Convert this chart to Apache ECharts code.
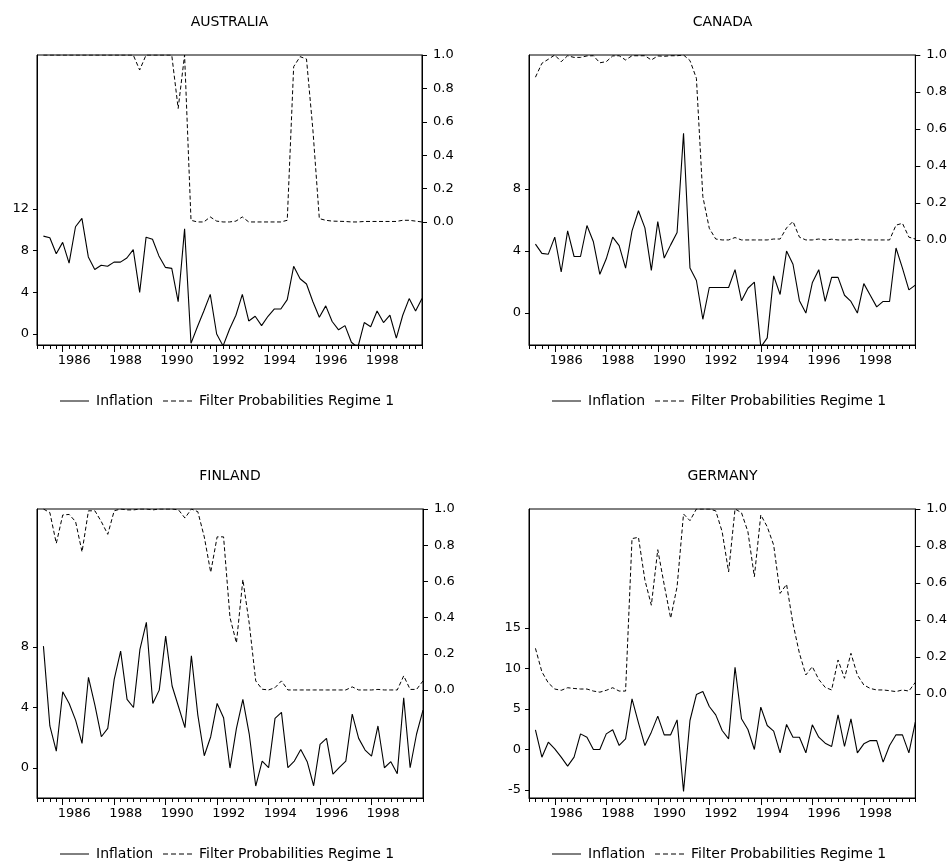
<!DOCTYPE html>
<html>
<head>
<meta charset="utf-8">
<script src="https://cdn.jsdelivr.net/npm/echarts@6/dist/echarts.min.js"></script>
<style>
  html, body { margin: 0; padding: 0; background: #fff; }
  #chart { width: 950px; height: 865px; }
</style>
</head>
<body>
<div id="chart"></div>
<script>
// ---- Data (quarterly observations) ----
const ausInfl = [9.4, 9.25, 7.7, 8.8, 6.8, 10.3, 11.1, 7.4, 6.2, 6.6, 6.5, 6.9, 6.9, 7.3, 8.1, 4.0, 9.3, 9.1, 7.5, 6.4,
  6.3, 3.1, 10.1, -0.9, 0.7, 2.2, 3.8, 0.0, -1.15, 0.45, 1.8, 3.8, 1.25, 1.7, 0.8, 1.7, 2.4, 2.4, 3.3, 6.5,
  5.3, 4.8, 3.1, 1.6, 2.7, 1.2, 0.4, 0.8, -0.8, -1.3, 1.1, 0.7, 2.2, 1.1, 1.8, -0.4, 1.8, 3.4, 2.2, 3.4];
const ausProb = [1, 1, 1, 1, 1, 1, 1, 1, 1, 1, 1, 1, 1, 1, 1, 0.91, 1, 1, 1, 1,
  1, 0.68, 1, 0.01, 0.0, 0.0, 0.03, 0.005, 0.0, 0.0, 0.005, 0.03, 0.0, 0.0, 0.0, 0.0, 0.0, 0.0, 0.01, 0.93,
  0.99, 0.976, 0.55, 0.02, 0.01, 0.005, 0.004, 0.003, 0.0, 0.0, 0.003, 0.003, 0.003, 0.003, 0.003, 0.003, 0.01, 0.01, 0.005, 0.0];

const canInfl = [4.45, 3.85, 3.8, 4.9, 2.65, 5.3, 3.65, 3.65, 5.65, 4.6, 2.5, 3.5, 4.9, 4.35, 2.9, 5.3, 6.6, 5.5, 2.75, 5.9,
  3.55, 4.4, 5.2, 11.6, 2.9, 2.1, -0.4, 1.65, 1.65, 1.65, 1.65, 2.8, 0.8, 1.6, 2.0, -2.2, -1.6, 2.4, 1.2, 4.0,
  3.15, 0.8, 0.0, 1.95, 2.8, 0.75, 2.3, 2.3, 1.15, 0.75, 0.0, 1.9, 1.15, 0.4, 0.75, 0.75, 4.2, 2.9, 1.5, 1.8];
const canProb = [0.88, 0.955, 0.977, 1.0, 0.964, 0.996, 0.987, 0.987, 0.995, 0.996, 0.958, 0.964, 0.995, 0.996, 0.973, 0.996, 0.996, 0.996, 0.973, 0.995,
  0.993, 0.996, 0.996, 1.0, 0.97, 0.874, 0.234, 0.063, 0.005, 0.0, 0.0, 0.013, 0.0, 0.0, 0.0, 0.0, 0.0, 0.005, 0.005, 0.065,
  0.1, 0.015, 0.0, 0.0, 0.005, 0.0, 0.004, 0.0, 0.0, 0.0, 0.004, 0.0, 0.0, 0.0, 0.0, 0.0, 0.08, 0.09, 0.015, 0.005];

const finInfl = [8.06, 2.78, 1.12, 5.04, 4.27, 3.17, 1.63, 6.0, 4.16, 2.07, 2.62, 5.86, 7.73, 4.54, 4.0, 7.84, 9.63, 4.27, 5.15, 8.72,
  5.42, 4.05, 2.67, 7.42, 3.5, 0.81, 2.07, 4.27, 3.33, 0.0, 2.62, 4.54, 2.22, -1.19, 0.46, 0.02, 3.28, 3.68, 0.02, 0.46,
  1.23, 0.42, -1.17, 1.56, 1.96, -0.4, 0.04, 0.46, 3.57, 1.96, 1.19, 0.79, 2.78, 0.02, 0.42, -0.37, 4.65, 0.02, 2.25, 3.83];
const finProb = [1.0, 0.98, 0.81, 0.967, 0.97, 0.93, 0.763, 0.99, 0.99, 0.93, 0.86, 0.99, 1.0, 0.995, 0.995, 1.0, 1.0, 0.995, 1.0, 1.0,
  1.0, 0.995, 0.95, 1.0, 0.985, 0.846, 0.65, 0.846, 0.846, 0.40, 0.26, 0.61, 0.365, 0.05, 0.004, 0.0, 0.013, 0.05, 0.0, 0.0,
  0.0, 0.0, 0.0, 0.0, 0.0, 0.0, 0.0, 0.0, 0.017, 0.0, 0.0, 0.0, 0.003, 0.0, 0.0, 0.0, 0.078, 0.003, 0.003, 0.05];

const gerInfl = [2.43, -0.95, 0.9, 0.08, -0.95, -2.06, -0.95, 1.93, 1.52, 0.0, 0.0, 1.93, 2.43, 0.5, 1.32, 6.26, 3.29, 0.49, 2.14, 4.12,
  1.81, 1.81, 3.66, -5.19, 3.58, 6.79, 7.16, 5.31, 4.28, 2.35, 1.32, 10.16, 3.79, 2.47, 0.0, 5.23, 2.96, 2.26, -0.41, 3.09,
  1.52, 1.52, -0.41, 3.05, 1.52, 0.78, 0.37, 4.28, 0.37, 3.79, -0.41, 0.7, 1.1, 1.1, -1.56, 0.49, 1.81, 1.81, -0.41, 3.37];
const gerProb = [0.247, 0.12, 0.06, 0.027, 0.02, 0.034, 0.03, 0.027, 0.027, 0.016, 0.01, 0.02, 0.034, 0.016, 0.016, 0.84, 0.847, 0.616, 0.48, 0.78,
  0.59, 0.41, 0.58, 0.973, 0.937, 1.0, 1.0, 1.0, 0.99, 0.877, 0.66, 1.0, 0.98, 0.877, 0.634, 0.968, 0.904, 0.805, 0.544, 0.593,
  0.38, 0.22, 0.103, 0.148, 0.079, 0.036, 0.022, 0.184, 0.085, 0.22, 0.103, 0.049, 0.03, 0.022, 0.022, 0.018, 0.013, 0.022, 0.016, 0.063];

// observation dates (decimal years), first observation 1985Q2
const startYear = 1985;
const obsCount = 60;
const obsDates = [];
for (let i = 0; i < obsCount; i++) obsDates.push(startYear + (i + 1) / 4);

// tick labels
const yearLabels = [1986, 1988, 1990, 1992, 1994, 1996, 1998];
const ausTicks = [0, 4, 8, 12];
const canTicks = [0, 4, 8];
const finTicks = [0, 4, 8];
const gerTicks = [-5, 0, 5, 10, 15];
const probTicks = [0, 0.2, 0.4, 0.6, 0.8, 1.0];
const seriesNames = ['Inflation', 'Filter Probabilities Regime 1'];

// ---- Layout ----
const FONT = 'DejaVu Sans';
const panels = [
  { title: 'AUSTRALIA', infl: ausInfl, prob: ausProb, ticks: ausTicks,
    grid: { left: 37, top: 55, width: 385, height: 290 }, lmin: -1.06, lmax: 26.8, rmin: -0.737, rmax: 1.0 },
  { title: 'CANADA', infl: canInfl, prob: canProb, ticks: canTicks,
    grid: { left: 529, top: 55, width: 387, height: 290 }, lmin: -2.06, lmax: 16.65, rmin: -0.568, rmax: 1.0 },
  { title: 'FINLAND', infl: finInfl, prob: finProb, ticks: finTicks,
    grid: { left: 37, top: 509, width: 386, height: 289 }, lmin: -1.98, lmax: 17.12, rmin: -0.597, rmax: 1.0 },
  { title: 'GERMANY', infl: gerInfl, prob: gerProb, ticks: gerTicks,
    grid: { left: 529, top: 509, width: 387, height: 289 }, lmin: -5.99, lmax: 29.7, rmin: -0.562, rmax: 1.0 }
];

const quarterTicks = [];
for (let q = 0; q <= 60; q++) quarterTicks.push(startYear + q / 4);

const labelStyle = { color: '#000', fontSize: 13, fontFamily: FONT };
const grids = [], xAxes = [], yAxes = [], series = [], graphics = [];

panels.forEach((p, i) => {
  grids.push({ left: p.grid.left, top: p.grid.top, width: p.grid.width, height: p.grid.height,
    show: true, borderColor: '#000', borderWidth: 1, backgroundColor: 'transparent', containLabel: false });

  xAxes.push({
    gridIndex: i, type: 'value', min: 1985, max: 2000, position: 'bottom',
    axisLine: { show: true, onZero: false, lineStyle: { color: '#000', width: 1 } },
    axisTick: { show: true, customValues: quarterTicks, length: 4, lineStyle: { color: '#000' } },
    axisLabel: Object.assign({ customValues: yearLabels.map(y => y + 0.45), formatter: v => String(Math.floor(v + 0.01)), margin: 9 }, labelStyle),
    splitLine: { show: false }
  });
  xAxes.push({
    gridIndex: i, type: 'value', min: 1985, max: 2000, position: 'bottom',
    axisLine: { show: false, onZero: false },
    axisTick: { show: true, customValues: yearLabels, length: 7, lineStyle: { color: '#000' } },
    axisLabel: { show: false },
    splitLine: { show: false }
  });

  yAxes.push({
    gridIndex: i, type: 'value', position: 'left', min: p.lmin, max: p.lmax,
    axisLine: { show: true, onZero: false, lineStyle: { color: '#000' } },
    axisTick: { show: true, customValues: p.ticks, length: 4, lineStyle: { color: '#000' } },
    axisLabel: Object.assign({ customValues: p.ticks, margin: 8 }, labelStyle),
    splitLine: { show: false }
  });
  yAxes.push({
    gridIndex: i, type: 'value', position: 'right', min: p.rmin, max: p.rmax,
    axisLine: { show: true, onZero: false, lineStyle: { color: '#000' } },
    axisTick: { show: true, customValues: probTicks, length: 5, lineStyle: { color: '#000' } },
    axisLabel: Object.assign({ customValues: probTicks, margin: 11, formatter: v => v.toFixed(1) }, labelStyle),
    splitLine: { show: false }
  });

  series.push({
    name: seriesNames[0], type: 'line', xAxisIndex: 2 * i, yAxisIndex: 2 * i,
    data: obsDates.map((d, k) => [d, p.infl[k]]),
    showSymbol: false, symbol: 'none', silent: true, animation: false,
    lineStyle: { color: '#000', width: 1.1 }
  });
  series.push({
    name: seriesNames[1], type: 'line', xAxisIndex: 2 * i, yAxisIndex: 2 * i + 1,
    data: obsDates.map((d, k) => [d, p.prob[k]]),
    showSymbol: false, symbol: 'none', silent: true, animation: false,
    lineStyle: { color: '#000', width: 1, type: [4, 2.5] }
  });

  // title
  const cx = p.grid.left + p.grid.width / 2;
  graphics.push({ type: 'text', x: cx, y: p.grid.top - 33, silent: true,
    style: { text: p.title, fill: '#000', font: '14px "' + FONT + '"', textAlign: 'center', textVerticalAlign: 'middle' } });

  // legend
  const ly = p.grid.top + p.grid.height + 56;
  const lx = p.grid.left;
  graphics.push({ type: 'line', silent: true, shape: { x1: lx + 23, y1: ly, x2: lx + 52, y2: ly },
    style: { stroke: '#000', lineWidth: 1 } });
  graphics.push({ type: 'text', x: lx + 59, y: ly, silent: true,
    style: { text: seriesNames[0], fill: '#000', font: '14px "' + FONT + '"', textAlign: 'left', textVerticalAlign: 'middle' } });
  graphics.push({ type: 'line', silent: true, shape: { x1: lx + 126, y1: ly, x2: lx + 156, y2: ly },
    style: { stroke: '#000', lineWidth: 1, lineDash: [5, 3] } });
  graphics.push({ type: 'text', x: lx + 162, y: ly, silent: true,
    style: { text: seriesNames[1], fill: '#000', font: '14px "' + FONT + '"', textAlign: 'left', textVerticalAlign: 'middle' } });
});

const chart = echarts.init(document.getElementById('chart'), null, { renderer: 'canvas' });
chart.setOption({
  backgroundColor: '#fff',
  animation: false,
  grid: grids,
  xAxis: xAxes,
  yAxis: yAxes,
  series: series,
  graphic: graphics
});
</script>
</body>
</html>
